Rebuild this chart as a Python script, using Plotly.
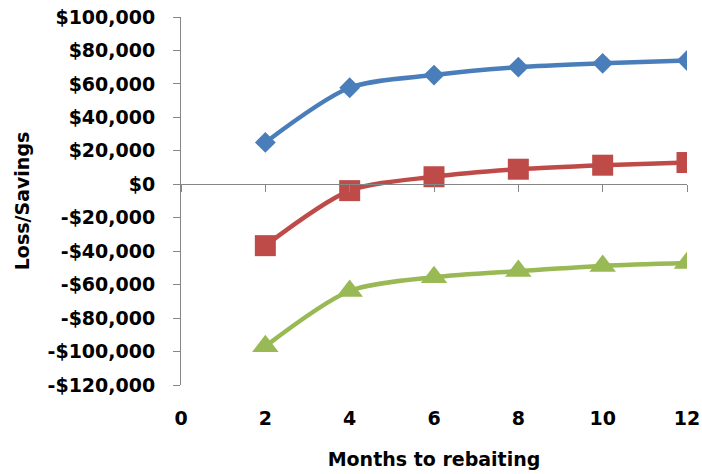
import plotly.graph_objects as go

months = [2, 4, 6, 8, 10, 12]
series_blue = [25000, 57700, 65300, 70000, 72300, 74000]
series_red = [-36700, -3800, 4500, 9000, 11400, 13000]
series_green = [-96900, -63800, -55600, -51900, -48800, -47100]
y_ticks = list(range(-120000, 100001, 20000))
y_tick_labels = [("-$" if v < 0 else "$") + f"{abs(v):,}" for v in y_ticks]
x_ticks = [0, 2, 4, 6, 8, 10, 12]

FONT = "DejaVu Sans"
FS = 19
AXIS_COLOR = "#868686"

fig = go.Figure()
specs = [
    (series_blue, "#4A7EBB", "diamond", 16),
    (series_red, "#BE4B48", "square", 21),
    (series_green, "#98B954", "triangle-up", 23),
]
for vals, col, sym, sz in specs:
    fig.add_trace(go.Scatter(
        x=months, y=vals, mode="lines+markers",
        line=dict(color=col, width=4.5, shape="spline", smoothing=0.8),
        marker=dict(symbol=sym, size=sz, color=col, line=dict(width=0)),
        showlegend=False, xaxis="x", yaxis="y",
    ))

ymin, ymax = -120000, 100000
zero_pos = (0 - ymin) / (ymax - ymin)

fig.update_layout(
    width=702, height=474,
    margin=dict(l=181, r=15, t=17, b=89),
    paper_bgcolor="white", plot_bgcolor="white",
    font=dict(family=FONT, size=FS, color="black"),
    xaxis=dict(
        range=[0, 12], tickvals=x_ticks, ticktext=[str(v) for v in x_ticks],
        showline=False, showgrid=False, zeroline=False, ticks="",
        automargin=False, ticklabeloverflow="allow",
        tickfont=dict(family=FONT, size=FS, color="black", weight="bold"),
        ticklabelstandoff=20,
        title=dict(text="Months to rebaiting", standoff=24,
                   font=dict(family=FONT, size=FS, color="black", weight="bold")),
    ),
    xaxis2=dict(
        range=[0, 12], tickvals=x_ticks, overlaying="x", anchor="free",
        position=zero_pos, side="bottom", automargin=False,
        showline=True, linecolor=AXIS_COLOR, linewidth=1,
        ticks="outside", ticklen=7, tickcolor=AXIS_COLOR,
        showticklabels=False, showgrid=False, zeroline=False,
    ),
    yaxis=dict(
        range=[ymin, ymax], tickvals=y_ticks, ticktext=y_tick_labels,
        showline=True, linecolor=AXIS_COLOR, linewidth=1,
        ticks="outside", ticklen=7, tickcolor=AXIS_COLOR,
        showgrid=False, zeroline=False, automargin=False,
        ticklabeloverflow="allow", ticklabelstandoff=14,
        tickfont=dict(family=FONT, size=FS, color="black", weight="bold"),
        title=dict(text="Loss/Savings", standoff=12,
                   font=dict(family=FONT, size=FS, color="black", weight="bold")),
    ),
)
fig.add_trace(go.Scatter(x=[0], y=[0], xaxis="x2", yaxis="y", mode="markers",
                         marker=dict(opacity=0), showlegend=False, hoverinfo="skip"))

# remove the default 8px page margin so the 702x474 figure fills the window
fig.write_html("out.html",
               config={"displayModeBar": False},
               post_script="document.body.style.margin='0';document.body.style.overflow='hidden';")
